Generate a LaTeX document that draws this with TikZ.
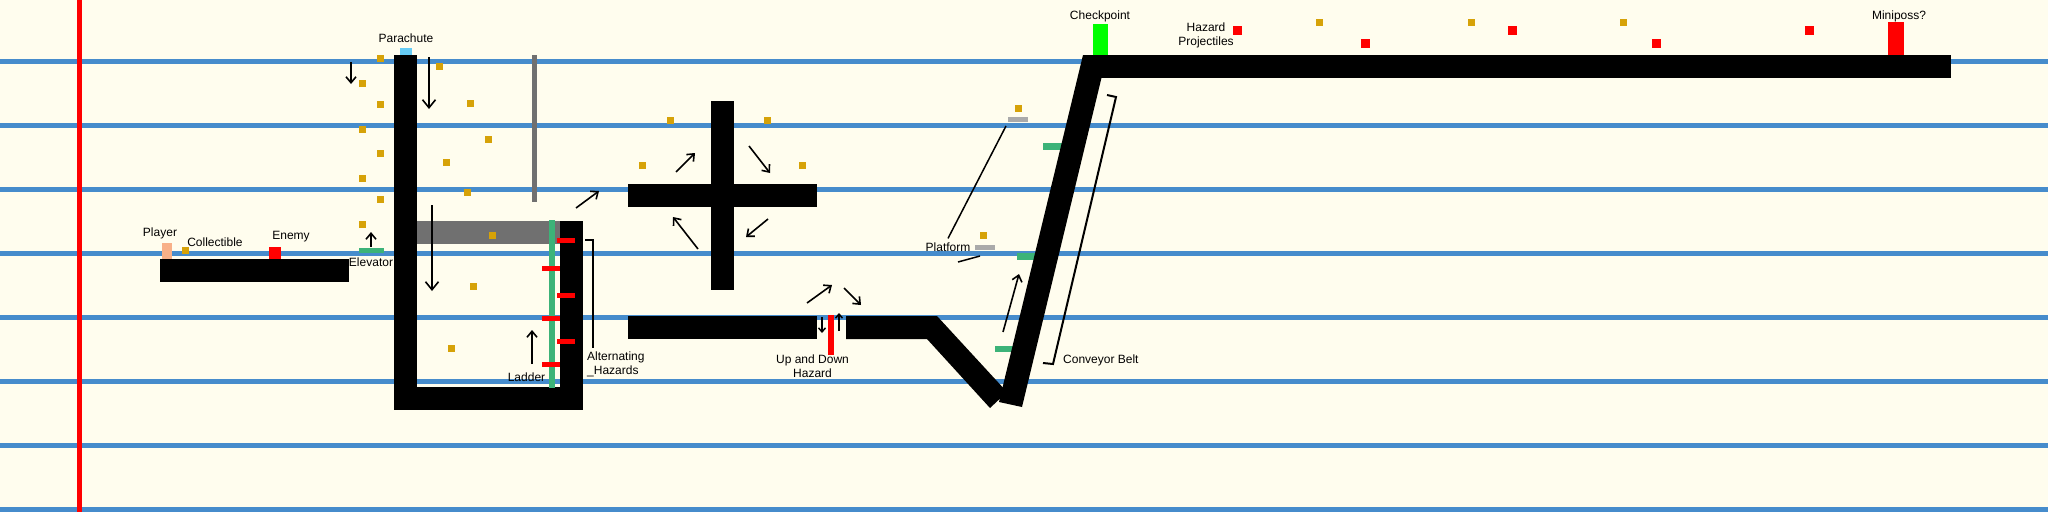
\documentclass[tikz,border=0pt]{standalone}
\usepackage{fontspec}
\setmainfont{Liberation Sans}
\usetikzlibrary{positioning,arrows.meta}

\definecolor{paper}{RGB}{255,253,238}
\definecolor{lane}{RGB}{70,140,204}
\definecolor{coingold}{RGB}{214,162,8}
\definecolor{movegreen}{RGB}{60,179,120}
\definecolor{wallgray}{RGB}{112,112,112}
\definecolor{padgray}{RGB}{170,170,170}
\definecolor{chute}{RGB}{102,204,245}
\definecolor{skin}{RGB}{248,176,136}

\begin{document}
\begin{tikzpicture}[x=1pt,y=-1pt,
  lanes/.style={lane,line width=5pt},
  coin/.style={fill=coingold},
  hurt/.style={fill=red},
  mover/.style={-{Straight Barb[length=6pt,width=10pt]},line width=1.6pt},
  bigmover/.style={-{Straight Barb[length=8pt,width=13pt]},line width=1.6pt},
  smallmover/.style={-{Straight Barb[length=4pt,width=7pt]},line width=1.5pt},
  pointer/.style={line width=1.5pt},
  brace/.style={line width=2pt},
  lbl/.style={font=\fontsize{12}{14}\selectfont,inner sep=0pt,align=center}]

  % Sizes of the small squares
  \newcommand{\coinsize}{7}
  \newcommand{\shotsize}{9}

  % Paper and lanes
  \fill[paper] (0,0) rectangle (2048,512);
  \useasboundingbox (0,0) rectangle (2048,512);
  \foreach \y in {61.5,125.5,189.5,253.5,317.5,381.5,445.5,509.5}
    \draw[lanes] (0,\y) -- (2048,\y);
  \fill[red] (77,0) rectangle (81.5,512); % start line

  % Ground and walls
  \fill (160,259) rectangle (349,282);   % start ground
  \fill (394,55) rectangle (417,410);    % shaft, left wall
  \fill (394,387) rectangle (583,410);   % shaft, floor
  \fill (560,221) rectangle (583,410);   % shaft, right wall
  \fill[wallgray] (417,221) rectangle (560,244); % ledge
  \fill[wallgray] (532,55) rectangle (537,202);  % pole
  \fill (711,101) rectangle (734,290);   % cross, upright
  \fill (628,184) rectangle (817,207);   % cross, beam
  \fill (628,316) rectangle (817,339);   % low floor, left

  % Moving platforms beside the belt
  \fill[movegreen] (1043,143) rectangle (1062,150);
  \fill[movegreen] (1017,253) rectangle (1036,260);
  \fill[movegreen] (995,346) rectangle (1013,352);

  \fill (846,316) -- (937,316) -- (1007,392) -- (990,408) -- (927,339) -- (846,339) -- cycle; % low floor, right
  \fill (999,402) -- (1083,55) -- (1107,55) -- (1022,407) -- cycle; % conveyor belt
  \fill (1083,55) rectangle (1951,78);   % top floor

  % Things on the level
  \fill[skin] (162,243) rectangle (172,259);      % player
  \fill[red] (269,247) rectangle (281,259);       % enemy
  \fill[movegreen] (359,248) rectangle (384,253); % elevator
  \fill[chute] (400,48) rectangle (412,55);       % parachute
  \fill[movegreen] (549,220) rectangle (555,388); % ladder
  \foreach \hx/\hy in {557/238,542/266,557/293,542/316,557/339,542/362}
    \fill[hurt] (\hx,\hy) rectangle ++(18,5);
  \fill[red] (828,315) rectangle (834,355);       % up and down hazard
  \fill[padgray] (1008,117) rectangle (1028,122); % platforms
  \fill[padgray] (975,245) rectangle (995,250);
  \fill[green] (1093,24) rectangle (1108,55);     % checkpoint
  \fill[red] (1888,22) rectangle (1904,55);       % miniposs

  % Collectibles
  \foreach \cx/\cy in {182/247,377/55,359/80,377/101,359/126,377/150,359/175,377/196,359/221,
      436/63,467/100,485/136,443/159,464/189,489/232,470/283,448/345,
      667/117,764/117,639/162,799/162,1015/105,980/232,1316/19,1468/19,1620/19}
    \fill[coin] (\cx,\cy) rectangle ++(\coinsize,\coinsize);

  % Projectiles
  \foreach \px/\py in {1233/26,1361/39,1508/26,1652/39,1805/26}
    \fill[hurt] (\px,\py) rectangle ++(\shotsize,\shotsize);

  % Movement
  \draw[mover] (351,62) -- (351,84);
  \draw[bigmover] (429,57) -- (429,109);
  \draw[bigmover] (432,205) -- (432,291);
  \draw[mover] (371,247) -- (371,232);
  \draw[mover] (532,364) -- (532,330);
  \draw[mover] (576,208) -- (599,191);
  \draw[mover] (676,172) -- (695,153);
  \draw[mover] (749,146) -- (770,173);
  \draw[mover] (768,219) -- (746,237);
  \draw[mover] (698,249) -- (673,217);
  \draw[smallmover] (822,317) -- (822,333);
  \draw[smallmover] (839,331) -- (839,313);
  \draw[mover] (807,303) -- (832,285);
  \draw[mover] (844,288) -- (861,305);
  \draw[mover] (1003,332) -- (1019,274);

  % Labels
  \node[lbl] (player) at (160,233) {Player};
  \node[lbl] (collectible) at (215,242) {Collectible};
  \node[lbl] (enemy) at (291,237) {Enemy};
  \node[lbl] (elevator) at (371,262) {Elevator};
  \node[lbl] (parachute) at (406,38) {Parachute};
  \node[lbl] (ladder) at (526.5,377) {Ladder};
  \node[lbl,align=left,anchor=west] (alternating) at (587,364) {Alternating\\\_Hazards};
  \node[lbl] (updown) at (812.5,366.5) {Up and Down\\Hazard};
  \node[lbl] (platform) at (948,247) {Platform};
  \node[lbl,anchor=west] (conveyor) at (1063,360) {Conveyor Belt};
  \node[lbl] (checkpoint) at (1100,16) {Checkpoint};
  \node[lbl] (projectiles) at (1206,35.5) {Hazard\\Projectiles};
  \node[lbl] (miniposs) at (1899,16) {Miniposs?};

  % Pointers and braces
  \coordinate (padhigh) at (1006,126);
  \coordinate (padlow) at (980,256);
  \draw[pointer] ([yshift=4pt]platform.north) -- (padhigh);
  \draw[pointer] (958,262) -- (padlow);
  \draw[brace] (585,240) -- (593,240) -- (593,348);
  \draw[brace] (1107,95) -- (1116,97) -- (1053,364) -- (1043,363);
\end{tikzpicture}
\end{document}
